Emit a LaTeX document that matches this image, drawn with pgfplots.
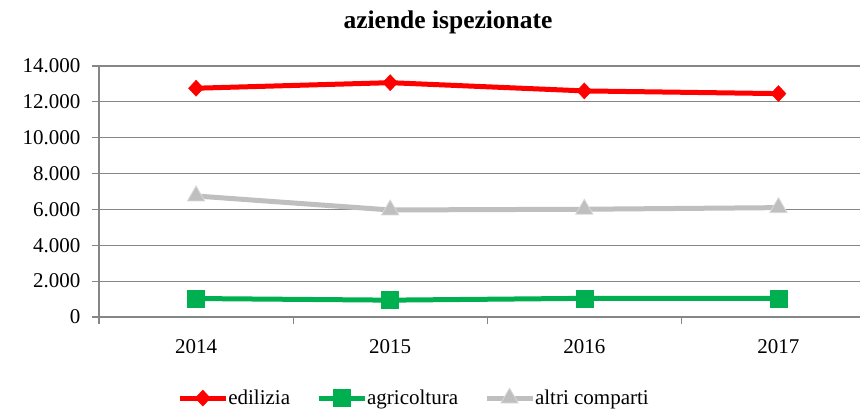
\documentclass[border=0pt]{standalone}
\usepackage{pgfplots}
\pgfplotsset{compat=1.18}
\usepackage{fontspec}
\setmainfont{Liberation Serif}
\definecolor{edred}{HTML}{FF0000}
\definecolor{agrgreen}{HTML}{00B050}
\definecolor{altgray}{HTML}{BFBFBF}
\definecolor{gridgray}{HTML}{868686}
\begin{document}
\begin{tikzpicture}[x=1pt,y=1pt]
\useasboundingbox (0,0) rectangle (865,415);
\node[font=\fontsize{25.5}{28}\selectfont\bfseries] at (448,393) {aziende ispezionate};
\begin{axis}[
  at={(99pt,98pt)}, anchor=south west,
  scale only axis, width=761pt, height=251pt,
  xmin=-0.5, xmax=3.42, ymin=0, ymax=14000,
  axis x line*=bottom, axis y line*=left,
  axis line style={draw=gridgray, line width=1.2pt, -},
  ytick={0,2000,...,14000},
  scaled y ticks=false,
  ymajorgrids, grid style={draw=gridgray, line width=1.2pt},
  xtick={0,1,2,3}, xticklabels={2014,2015,2016,2017},
  major x tick style={draw=none},
  minor xtick={-0.5,0.5,1.5,2.5},
  minor x tick style={draw=gridgray, line width=1.2pt},
  minor tick length=7pt,
  major tick length=7pt,
  tick align=outside,
  ytick style={draw=gridgray, line width=1.2pt},
  tick label style={font=\fontsize{21}{24}\selectfont},
  /pgf/number format/assume math mode=true,
  /pgf/number format/.cd, 1000 sep={.}, min exponent for 1000 sep=0,
  /pgfplots/.cd,
  yticklabel style={xshift=-8pt},
  xticklabel style={yshift=-12pt},
  clip=false,
  legend columns=3,
  legend style={at={(0.414,-0.323)}, anchor=center, draw=none, fill=none,
    font=\fontsize{21}{24}\selectfont,
    /tikz/every even column/.append style={column sep=24pt},
    /tikz/every odd column/.append style={column sep=-2pt},
    inner sep=0pt},
  legend image code/.code={\draw[mark repeat=2,mark phase=2] plot coordinates {(0pt,0pt) (23pt,0pt) (46pt,0pt)};},
]
\addplot[edred, line width=5pt, mark=diamond*, mark size=8pt, mark options={line width=0.5pt, fill=edred, solid, xscale=1.25}] coordinates {(0,12760) (1,13070) (2,12610) (3,12460)};
\addlegendentry{edilizia}
\addplot[agrgreen, line width=5pt, mark=square*, mark size=8.5pt, mark options={line width=0.5pt, fill=agrgreen}] coordinates {(0,1030) (1,940) (2,1040) (3,1040)};
\addlegendentry{agricoltura}
\addplot[altgray, line width=5pt, mark=triangle*, mark size=10pt, mark options={line width=0.8pt, draw=altgray!60!white, fill=altgray}] coordinates {(0,6750) (1,5970) (2,6010) (3,6100)};
\addlegendentry{altri comparti}
\end{axis}
\end{tikzpicture}
\end{document}
